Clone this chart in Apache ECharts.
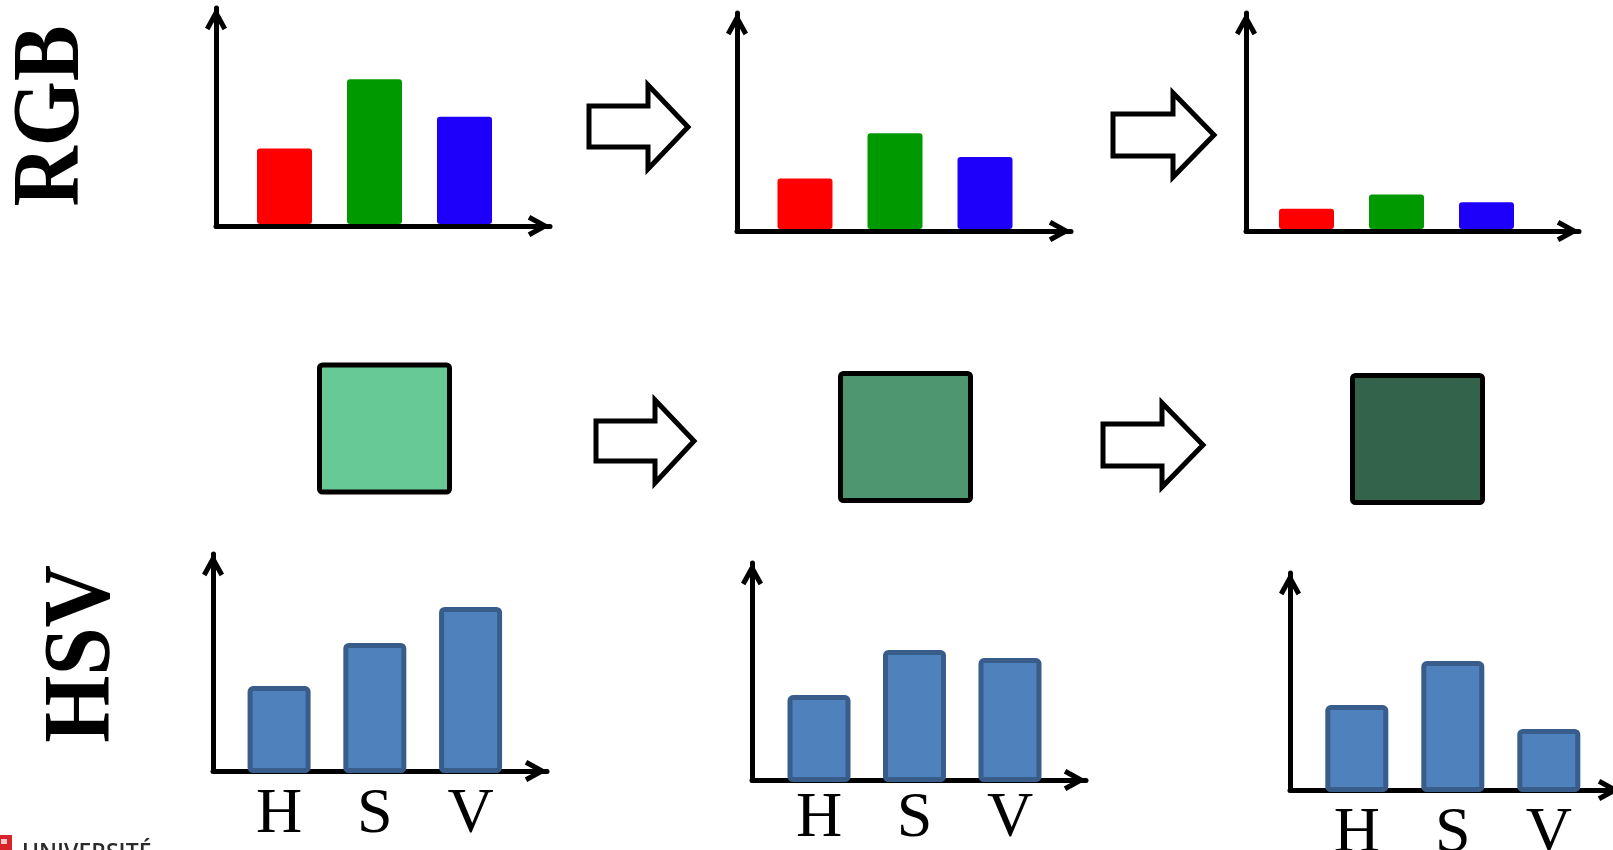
<!DOCTYPE html>
<html>
<head>
<meta charset="utf-8">
<script src="https://cdn.jsdelivr.net/npm/echarts@6.0.0/dist/echarts.min.js"></script>
<style>
  html, body { margin: 0; padding: 0; background: #ffffff; overflow: hidden; }
  #chart { width: 1613px; height: 850px; }
</style>
</head>
<body>
<div id="chart"></div>
<script>
// Channel names
const RGB_CHANNELS = ['R', 'G', 'B'];
const HSV_CHANNELS = ['H', 'S', 'V'];

// RGB channel levels (0-255 scale) at each darkening step
const RGB_STEP_1 = [105, 201, 149];
const RGB_STEP_2 = [70, 133, 100];
const RGB_STEP_3 = [28, 48, 37];

// HSV components (percent of the axis height) at each step
const HSV_STEP_1 = [39.7, 59.4, 75.8];
const HSV_STEP_2 = [39.7, 60.3, 56.6];
const HSV_STEP_3 = [39.7, 59.8, 28.8];

// Colours
const RGB_BAR_COLORS = ['#FF0000', '#009900', '#1E00FA'];
const SWATCHES = ['#66C996', '#4D9670', '#33634B'];
const ROW_TITLES = ['RGB', 'HSV'];

// Open chevron used as the arrow head of each axis (points up before rotation)
const CHEVRON = 'path://M11 0 L22 20 L17.6 22.5 L11 10.5 L4.4 22.5 L0 20 Z';

// Panel layout: axis origin, arrow tips, the band occupied by the bars and label gap
const panels = [
  { kind: 'rgb', values: RGB_STEP_1, ox: 216,  oy: 226, tipX: 550,  tipY: 8,   barsLeft: 239.5,  band: 90 },
  { kind: 'rgb', values: RGB_STEP_2, ox: 737,  oy: 231, tipX: 1071, tipY: 13,  barsLeft: 760,    band: 90 },
  { kind: 'rgb', values: RGB_STEP_3, ox: 1246, oy: 231, tipX: 1579, tipY: 13,  barsLeft: 1261.5, band: 90 },
  { kind: 'hsv', values: HSV_STEP_1, ox: 213,  oy: 771, tipX: 547,  tipY: 554, barsLeft: 231.2,  band: 95.75, labelGap: 10 },
  { kind: 'hsv', values: HSV_STEP_2, ox: 752,  oy: 780, tipX: 1086, tipY: 563, barsLeft: 771.25, band: 95.5,  labelGap: 5 },
  { kind: 'hsv', values: HSV_STEP_3, ox: 1290, oy: 790, tipX: 1620, tipY: 573, barsLeft: 1308.8, band: 96,    labelGap: 10 }
];

const grid = [], xAxis = [], yAxis = [], series = [];

const axisLineStyle = {
  show: true,
  symbol: ['none', CHEVRON],
  symbolSize: [22, 22.5],
  symbolOffset: [0, -11],
  lineStyle: { color: '#000000', width: 5, cap: 'round' }
};

panels.forEach(function (p) {
  const isRgb = p.kind === 'rgb';
  const frameIdx = grid.length;
  // Frame grid: only carries the two arrowed axes
  grid.push({
    left: p.ox, top: p.tipY, width: p.tipX - p.ox, height: p.oy - p.tipY,
    containLabel: false, outerBoundsMode: 'none'
  });
  xAxis.push({
    gridIndex: frameIdx, type: 'value', min: 0, max: 1,
    axisLine: axisLineStyle, axisTick: { show: false }, axisLabel: { show: false }, splitLine: { show: false }
  });
  yAxis.push({
    gridIndex: frameIdx, type: 'value', min: 0, max: 1,
    axisLine: axisLineStyle, axisTick: { show: false }, axisLabel: { show: false }, splitLine: { show: false }
  });

  // Bars grid: category bands for the three channels
  const barsIdx = grid.length;
  const baseY = p.oy + (isRgb ? -2 : 2);
  grid.push({
    left: p.barsLeft, top: p.tipY, width: p.band * 3, height: baseY - p.tipY,
    containLabel: false, outerBoundsMode: 'none'
  });
  xAxis.push({
    gridIndex: barsIdx, type: 'category',
    data: isRgb ? RGB_CHANNELS : HSV_CHANNELS,
    axisLine: { show: false }, axisTick: { show: false },
    axisLabel: isRgb ? { show: false } : {
      show: true, color: '#000000', fontFamily: 'Liberation Serif', fontSize: 64, margin: p.labelGap
    },
    splitLine: { show: false }
  });
  yAxis.push({ gridIndex: barsIdx, type: 'value', min: 0, max: isRgb ? 300 : 100, show: false });

  series.push({
    type: 'bar',
    xAxisIndex: barsIdx,
    yAxisIndex: barsIdx,
    data: p.values,
    barWidth: isRgb ? 55 : 63,
    itemStyle: isRgb
      ? { color: function (d) { return RGB_BAR_COLORS[d.dataIndex]; }, borderRadius: 3 }
      : { color: '#4F81BD', borderColor: '#385D8A', borderWidth: 5, borderRadius: 3 },
    emphasis: { disabled: true }
  });
});

// Outlined block arrows between the steps
const blockArrows = [
  [[589, 106], [648, 106], [648, 85], [688, 127], [648, 169], [648, 147], [589, 147]],
  [[1113, 114], [1173, 114], [1173, 93], [1214, 135], [1173, 177], [1173, 156], [1113, 156]],
  [[596, 421], [655, 421], [655, 400], [694, 441], [655, 483], [655, 461], [596, 461]],
  [[1103, 424], [1162, 424], [1162, 403], [1203, 445], [1162, 487], [1162, 466], [1103, 466]]
];

// Swatch squares
const swatchBoxes = [
  { x: 319.5, y: 365 }, { x: 840.5, y: 373.5 }, { x: 1352.5, y: 375.5 }
];

const graphic = [];

graphic.push({
  type: 'text', x: 53, y: 116, rotation: Math.PI / 2, scaleX: 0.87,
  style: { text: ROW_TITLES[0], font: 'bold 96px "Liberation Serif"', fill: '#000000', align: 'center', verticalAlign: 'middle' }
});
graphic.push({
  type: 'text', x: 84, y: 654, rotation: Math.PI / 2, scaleX: 0.9,
  style: { text: ROW_TITLES[1], font: 'bold 96px "Liberation Serif"', fill: '#000000', align: 'center', verticalAlign: 'middle' }
});

blockArrows.forEach(function (pts) {
  graphic.push({
    type: 'polygon', shape: { points: pts },
    style: { fill: '#ffffff', stroke: '#000000', lineWidth: 5, lineJoin: 'miter' }
  });
});

swatchBoxes.forEach(function (b, i) {
  graphic.push({
    type: 'rect', shape: { x: b.x, y: b.y, width: 130, height: 127, r: 3 },
    style: { fill: SWATCHES[i], stroke: '#000000', lineWidth: 5 }
  });
});

// University mark in the lower left corner
graphic.push({
  type: 'rect', shape: { x: -4, y: 835, width: 16, height: 18 },
  style: { fill: '#D8232A' }
});
graphic.push({
  type: 'rect', shape: { x: 1, y: 839, width: 6, height: 5 },
  style: { fill: '#F4C9CB' }
});
graphic.push({
  type: 'text', x: 22, y: 853,
  style: { text: 'UNIVERSITÉ', font: '600 23px "Open Sans"', fill: '#2B2B2B', align: 'left', verticalAlign: 'middle' }
});

const chart = echarts.init(document.getElementById('chart'), null, { renderer: 'canvas' });
chart.setOption({
  animation: false,
  backgroundColor: '#ffffff',
  grid: grid,
  xAxis: xAxis,
  yAxis: yAxis,
  series: series,
  graphic: graphic
});
</script>
</body>
</html>
